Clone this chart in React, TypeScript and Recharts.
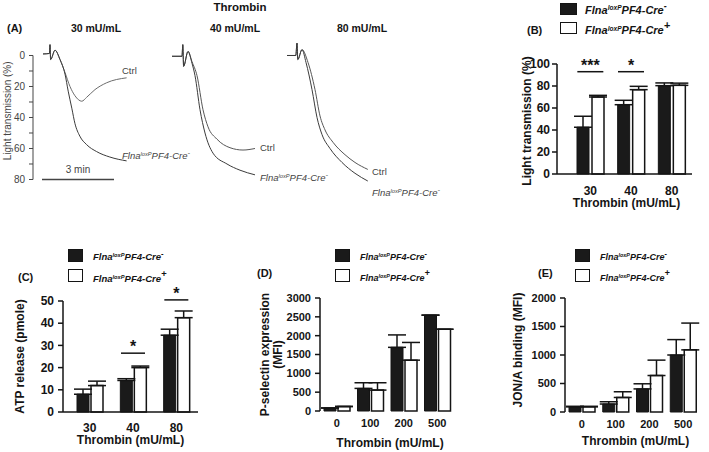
import React from 'react';
import {
  LineChart, Line, XAxis, YAxis, ReferenceLine,
  BarChart, Bar, ErrorBar, ReferenceDot,
} from 'recharts';

const FONT = '"Liberation Sans", Arial, Helvetica, sans-serif';
const INK = '#141414';
const TRACE = '#444';

// (A) aggregometry traces — [seconds after start, % light transmission]
const onset30 = [[0, -1], [16, -1.3], [17.5, -7], [19, 2.6], [30, -3.4]];
const ctrlFall30 = [[42.5, 2.6], [55, 11], [67.5, 20], [80, 26], [97, 29.5], [109, 27], [130, 22], [159, 17.6], [209, 14.4]];
const koFall30 = [[42.5, 2.6], [55, 12], [63, 23], [72, 34], [80, 44], [92, 52], [109, 57.5], [134, 62], [167, 65.5], [209, 68]];

const onset40 = [[0, 0.5], [25, 0.5], [27, -7], [29, 7], [40, -2.6]];
const ctrlFall40 = [[50, 4], [62.5, 13], [77.5, 35], [90, 46], [112.5, 54], [145, 59.5], [177.5, 61], [207.5, 60]];
const koFall40 = [[50, 5], [57.5, 13], [70, 35], [82.5, 50], [102.5, 63], [137.5, 70], [170, 74], [207.5, 77]];

const onset80 = [[0, 0], [22, 0], [25, -8], [27, 2.6], [37.5, -3.8]];
const ctrlFall80 = [[52.5, 4.5], [70, 22], [82.5, 39], [95, 48], [115, 56], [145, 64], [170, 69], [202, 73.5]];
const koFall80 = [[47.5, 4.5], [62.5, 22], [75, 40], [87.5, 51], [107.5, 60], [137.5, 69], [170, 76], [202, 81]];

const transTicks = [0, 10, 20, 30, 40, 50, 60, 70, 80];
const scaleBarStart = -2.5;
const scaleBarSec = 180;

// (B) light transmission
const thrombinB = ['30', '40', '80'];
const lightCtrl = [42.5, 63, 80.3];
const lightCtrlErr = [10, 4, 2.5];
const lightKo = [70, 76.7, 80.6];
const lightKoErr = [1.5, 3, 2];
const lightTicks = [0, 20, 40, 60, 80, 100];
const lightSig = [{ cat: '30', y: 93, mark: '***' }, { cat: '40', y: 93, mark: '*' }];

// (C) ATP release
const thrombinC = ['30', '40', '80'];
const atpCtrl = [8, 14.2, 34.6];
const atpCtrlErr = [2.3, 0.8, 2.7];
const atpKo = [11.9, 20, 42.5];
const atpKoErr = [2, 0.7, 3];
const atpTicks = [0, 10, 20, 30, 40, 50];
const atpSig = [{ cat: '40', y: 26.5, mark: '*' }, { cat: '80', y: 50.5, mark: '*' }];

// (D) P-selectin, (E) JON/A
const thrombinDE = ['0', '100', '200', '500'];
const pselCtrl = [80, 600, 1690, 2545];
const pselCtrlErr = [0, 150, 330, 0];
const pselKo = [120, 555, 1350, 2170];
const pselKoErr = [0, 195, 470, 0];
const pselTicks = [0, 500, 1000, 1500, 2000, 2500, 3000];

const jonCtrl = [90, 140, 405, 1000];
const jonCtrlErr = [10, 40, 90, 270];
const jonKo = [90, 255, 640, 1090];
const jonKoErr = [10, 100, 270, 470];
const jonTicks = [0, 500, 1000, 1500, 2000];

const PX_PER_S = 0.4; // 3 min bar ~72px
const PX_PER_PCT = 1.55;
const axisStroke = { stroke: INK, strokeWidth: 1.5 };

const pts = (arr: number[][]) => arr.map(([t, v]) => ({ t, v }));

function Txt({ x, y, size, bold, italic, color = INK, center, children }: any) {
  return (
    <div style={{
      position: 'absolute', left: x, top: y, transform: `translate(${center ? '-50%' : '0'}, -50%)`,
      fontSize: size, fontWeight: bold ? 700 : 400, fontStyle: italic ? 'italic' : 'normal',
      color, lineHeight: 1, whiteSpace: 'nowrap',
    }}>{children}</div>
  );
}

function Geno({ sign }: { sign: string }) {
  return (
    <>Flna<span style={{ fontSize: '0.6em', verticalAlign: '0.55em' }}>loxP</span>PF4-Cre
      <span style={{ fontSize: sign === '+' ? '1em' : '0.8em', verticalAlign: '0.5em' }}>{sign}</span></>
  );
}

function Key({ x, y, w, h, step, tx, size }: any) {
  return (
    <>
      {[0, 1].map((i) => (
        <React.Fragment key={i}>
          <div style={{
            position: 'absolute', left: x, top: y + i * step, width: w, height: h, boxSizing: 'border-box',
            border: `1.5px solid ${INK}`, background: i === 0 ? '#1a1a1a' : '#fff',
          }} />
          <Txt x={tx} y={y + i * step + h / 2} size={size} bold italic><Geno sign={i === 0 ? '-' : '+'} /></Txt>
        </React.Fragment>
      ))}
    </>
  );
}

function YTitle({ viewBox, lines, dy = 0, size = 12, weight = 700, color = INK }: any) {
  if (!viewBox) return null;
  const cy = viewBox.y + viewBox.height / 2 + dy;
  return (
    <g>
      {lines.map((l: any) => {
        const cx = viewBox.x + l.dx;
        return (
          <text key={l.text} x={cx} y={cy} transform={`rotate(-90 ${cx} ${cy})`} textAnchor="middle"
            dominantBaseline="central" fontSize={size} fontWeight={weight} fill={color}>{l.text}</text>
        );
      })}
    </g>
  );
}

function XTitle({ viewBox, text, dx = 0, dy }: any) {
  if (!viewBox) return null;
  return (
    <text x={viewBox.x + viewBox.width / 2 + dx} y={viewBox.y + dy} textAnchor="middle"
      dominantBaseline="central" fontSize={12} fontWeight={700} fill={INK}>{text}</text>
  );
}

function TraceChart({ left, domain, curves, withAxis }: any) {
  const plotW = (domain[1] - domain[0]) * PX_PER_S;
  const yW = withAxis ? 33 : 0;
  const plotH = 94 * PX_PER_PCT;
  return (
    <div style={{ position: 'absolute', left, top: 40 }}>
      <LineChart width={yW + plotW} height={plotH + 10} margin={{ top: 0, right: 0, bottom: 10, left: 0 }}>
        <XAxis type="number" dataKey="t" domain={domain} hide />
        <YAxis type="number" domain={[-10, 84]} reversed hide={!withAxis} width={yW} ticks={transTicks}
          interval={0} tickFormatter={(v: number) => (v % 20 === 0 ? String(v) : '')}
          axisLine={false} tickLine={{ stroke: TRACE }} tickSize={4} tickMargin={4}
          tick={{ fill: TRACE, fontSize: 10 }}
          label={<YTitle lines={[{ text: 'Light transmission (%)', dx: 7 }]} dy={-2} size={10} weight={400} color={TRACE} />} />
        {withAxis && (
          <ReferenceLine segment={[{ x: domain[0], y: 0 }, { x: domain[0], y: 80 }]} stroke={TRACE} strokeWidth={1} ifOverflow="visible" />
        )}
        {withAxis && (
          <ReferenceLine segment={[{ x: scaleBarStart, y: 80 }, { x: scaleBarStart + scaleBarSec, y: 80 }]}
            stroke={TRACE} strokeWidth={1.5} ifOverflow="visible"
            label={{ value: '3 min', position: 'top', offset: 6, fill: TRACE, fontSize: 10 }} />
        )}
        {curves.map((c: any, i: number) => (
          <Line key={i} data={c.data} dataKey="v" type="monotone" stroke={c.color} strokeWidth={1}
            dot={false} isAnimationActive={false} />
        ))}
      </LineChart>
    </div>
  );
}

function BarPanel(p: any) {
  const rows = p.cats.map((cat: string, i: number) => ({
    cat,
    ctrl: p.ctrl[i], ctrlErr: [0, p.ctrlErr[i]],
    ko: p.ko[i], koErr: [0, p.koErr[i]],
  }));
  const width = p.yW + p.plotW + 6;
  const height = p.mTop + p.plotH + 40;
  const edgeTicks = p.cats.map((_: string, i: number) => i).concat(p.cats.length);
  const sigShape = (mark: string) => (s: any) => (
    <g>
      <line x1={s.cx - p.sigHalf} x2={s.cx + p.sigHalf} y1={s.cy} y2={s.cy} stroke={INK} strokeWidth={1.5} />
      <text x={s.cx} y={s.cy - 1} textAnchor="middle" fontSize={16} fontWeight={700} fill={INK}>{mark}</text>
    </g>
  );
  return (
    <div style={{ position: 'absolute', left: p.left, top: p.top }}>
      <BarChart width={width} height={height} data={rows} margin={{ top: p.mTop, right: 6, bottom: 0, left: 0 }}
        barSize={12} barGap={p.gap}>
        {p.edges && (
          <XAxis xAxisId="edge" type="number" domain={[0, p.cats.length]} ticks={edgeTicks} interval={0}
            height={0} tickSize={5} tickFormatter={() => ''} axisLine={axisStroke} tickLine={axisStroke} />
        )}
        <XAxis xAxisId="cat" dataKey="cat" height={40} padding={{ left: p.padLeft || 0, right: 0 }}
          axisLine={p.edges ? false : axisStroke} tickLine={false} tickSize={p.xTickSize} tickMargin={2}
          interval={0} tick={{ fill: INK, fontSize: p.font, fontWeight: 700 }}
          label={<XTitle text="Thrombin (mU/mL)" dx={p.xTitleDx} dy={p.xTitleDy} />} />
        <YAxis type="number" domain={p.domain} ticks={p.ticks} interval={0} width={p.yW}
          axisLine={axisStroke} tickLine={axisStroke} tickSize={5} tickMargin={p.yTickMargin}
          tick={{ fill: INK, fontSize: p.font, fontWeight: 700 }}
          label={<YTitle lines={p.yTitle} dy={p.yTitleDy || 0} />} />
        <Bar xAxisId="cat" dataKey="ctrl" fill="#1a1a1a" stroke={INK} strokeWidth={1} isAnimationActive={false}>
          <ErrorBar dataKey="ctrlErr" width={9} stroke={INK} strokeWidth={1.5} />
        </Bar>
        <Bar xAxisId="cat" dataKey="ko" fill="#fff" stroke={INK} strokeWidth={1.5} isAnimationActive={false}>
          <ErrorBar dataKey="koErr" width={9} stroke={INK} strokeWidth={1.5} />
        </Bar>
        {(p.sig || []).map((s: any) => (
          <ReferenceDot key={s.cat} xAxisId="cat" x={s.cat} y={s.y} r={0} ifOverflow="visible" shape={sigShape(s.mark)} />
        ))}
      </BarChart>
    </div>
  );
}

export default function App() {
  return (
    <div style={{
      position: 'absolute', left: 0, top: 0, width: 709, height: 452, background: '#fff',
      overflow: 'hidden', fontFamily: FONT, color: INK,
    }}>
      {/* (A) */}
      <TraceChart left={0} domain={[-25, 225]} withAxis curves={[
        { data: pts([...onset30, ...ctrlFall30]), color: '#6a6a6a' },
        { data: pts([...onset30, ...koFall30]), color: '#3a3a3a' },
      ]} />
      <TraceChart left={172} domain={[0, 220]} curves={[
        { data: pts([...onset40, ...ctrlFall40]), color: '#555' },
        { data: pts([...onset40, ...koFall40]), color: '#3a3a3a' },
      ]} />
      <TraceChart left={287} domain={[0, 210]} curves={[
        { data: pts([...onset80, ...ctrlFall80]), color: '#555' },
        { data: pts([...onset80, ...koFall80]), color: '#3a3a3a' },
      ]} />
      <Txt x={240} y={8} size={11.5} bold center>Thrombin</Txt>
      <Txt x={7} y={28} size={11} bold>(A)</Txt>
      <Txt x={96} y={28} size={10.5} bold center>30 mU/mL</Txt>
      <Txt x={235} y={28} size={10.5} bold center>40 mU/mL</Txt>
      <Txt x={362} y={28} size={10.5} bold center>80 mU/mL</Txt>
      <Txt x={122} y={71} size={9.5} color={TRACE}>Ctrl</Txt>
      <Txt x={122} y={155} size={9.5} color={TRACE} italic><Geno sign="-" /></Txt>
      <Txt x={260} y={148} size={9.5} color={TRACE}>Ctrl</Txt>
      <Txt x={260} y={177} size={9.5} color={TRACE} italic><Geno sign="-" /></Txt>
      <Txt x={372} y={172} size={9.5} color={TRACE}>Ctrl</Txt>
      <Txt x={372} y={192} size={9.5} color={TRACE} italic><Geno sign="-" /></Txt>

      {/* (B) */}
      <Txt x={527} y={30} size={11} bold>(B)</Txt>
      <Key x={560} y={3} w={17} h={12} step={19} tx={585} size={11} />
      <BarPanel left={512} top={50} yW={45} plotW={135} plotH={110} mTop={14} padLeft={13} gap={3}
        cats={thrombinB} ctrl={lightCtrl} ctrlErr={lightCtrlErr} ko={lightKo} koErr={lightKoErr}
        domain={[0, 100]} ticks={lightTicks} font={12} yTickMargin={2} xTickSize={10}
        yTitle={[{ text: 'Light transmission (%)', dx: 15 }]} yTitleDy={2} xTitleDx={2} xTitleDy={29}
        sig={lightSig} sigHalf={13} />

      {/* (C) */}
      <Txt x={18} y={277} size={11} bold>(C)</Txt>
      <Key x={68} y={249} w={15} h={13} step={20} tx={93} size={9.5} />
      <BarPanel left={8} top={281} yW={55} plotW={135} plotH={111} mTop={20} padLeft={5} gap={2}
        cats={thrombinC} ctrl={atpCtrl} ctrlErr={atpCtrlErr} ko={atpKo} koErr={atpKoErr}
        domain={[0, 50]} ticks={atpTicks} font={12} yTickMargin={4} xTickSize={9}
        yTitle={[{ text: 'ATP release (pmole)', dx: 12 }]} xTitleDx={0} xTitleDy={28}
        sig={atpSig} sigHalf={12} />

      {/* (D) */}
      <Txt x={257} y={273} size={11} bold>(D)</Txt>
      <Key x={335} y={249} w={15} h={13} step={20} tx={360} size={9} />
      <BarPanel left={250} top={288} yW={70} plotW={134} plotH={113} mTop={10} gap={2} edges
        cats={thrombinDE} ctrl={pselCtrl} ctrlErr={pselCtrlErr} ko={pselKo} koErr={pselKoErr}
        domain={[0, 3000]} ticks={pselTicks} font={11} yTickMargin={4} xTickSize={6}
        yTitle={[{ text: 'P-selectin expression', dx: 15 }, { text: '(MFI)', dx: 28 }]} xTitleDx={3} xTitleDy={32} />

      {/* (E) */}
      <Txt x={538} y={273} size={11} bold>(E)</Txt>
      <Key x={575} y={249} w={15} h={13} step={20} tx={600} size={9} />
      <BarPanel left={510} top={288} yW={55} plotW={135} plotH={114} mTop={10} gap={2} edges
        cats={thrombinDE} ctrl={jonCtrl} ctrlErr={jonCtrlErr} ko={jonKo} koErr={jonKoErr}
        domain={[0, 2000]} ticks={jonTicks} font={11} yTickMargin={4} xTickSize={6}
        yTitle={[{ text: 'JON/A binding (MFI)', dx: 8 }]} yTitleDy={-5} xTitleDx={3} xTitleDy={29} />
    </div>
  );
}
